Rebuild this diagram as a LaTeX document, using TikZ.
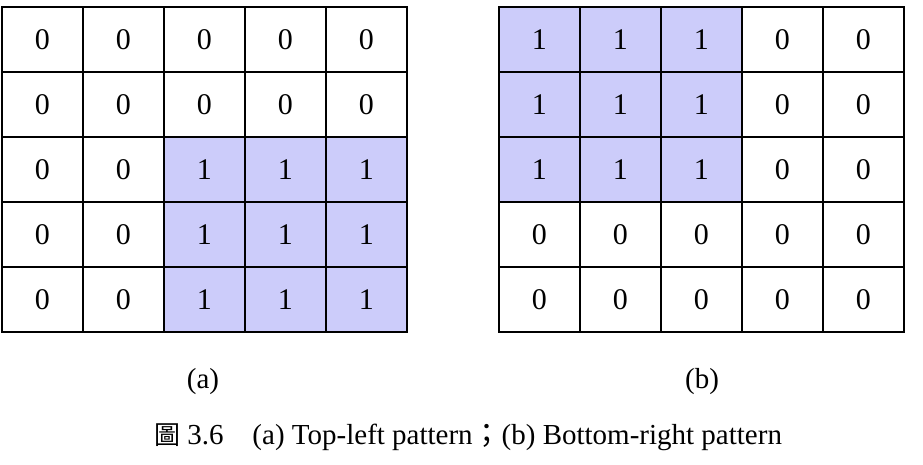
\documentclass[tikz,border=0pt]{standalone}
\usepackage{fontspec}
\setmainfont{Liberation Serif}
\newfontfamily\cjk{Noto Sans CJK TC}
\definecolor{lav}{RGB}{204,204,250}
\begin{document}
\begin{tikzpicture}[x=1pt,y=-1pt,
  cell/.style={draw=black,line width=1.8pt,minimum width=81pt,minimum height=65pt,inner sep=0pt,font=\fontsize{30}{30}\selectfont,anchor=north west},
  hi/.style={fill=lav},
  lab/.style={font=\fontsize{29}{29}\selectfont}]
\useasboundingbox (0,0) rectangle (923,465);
\foreach \r in {0,...,4}{
  \foreach \c in {0,...,4}{
    \pgfmathtruncatemacro\ia{(\r>=2 && \c>=2)?1:0}
    \pgfmathtruncatemacro\ib{(\r<=2 && \c<=2)?1:0}
    \ifnum\ia=1 \node[cell,hi] (a\r\c) at (1+\c*81,6+\r*65) {1};
    \else \node[cell] (a\r\c) at (1+\c*81,6+\r*65) {0}; \fi
    \ifnum\ib=1 \node[cell,hi] (b\r\c) at (498+\c*81,6+\r*65) {1};
    \else \node[cell] (b\r\c) at (498+\c*81,6+\r*65) {0}; \fi
  }}
\node[lab] (la) at (203,382) {(a)};
\node[lab] (lb) at (702,382) {(b)};
\node[lab] (cap) at (468,437) {{\cjk\fontsize{26}{26}\selectfont 圖} 3.6\quad (a) Top-left pattern{\cjk ；}(b) Bottom-right pattern};
\end{tikzpicture}
\end{document}
